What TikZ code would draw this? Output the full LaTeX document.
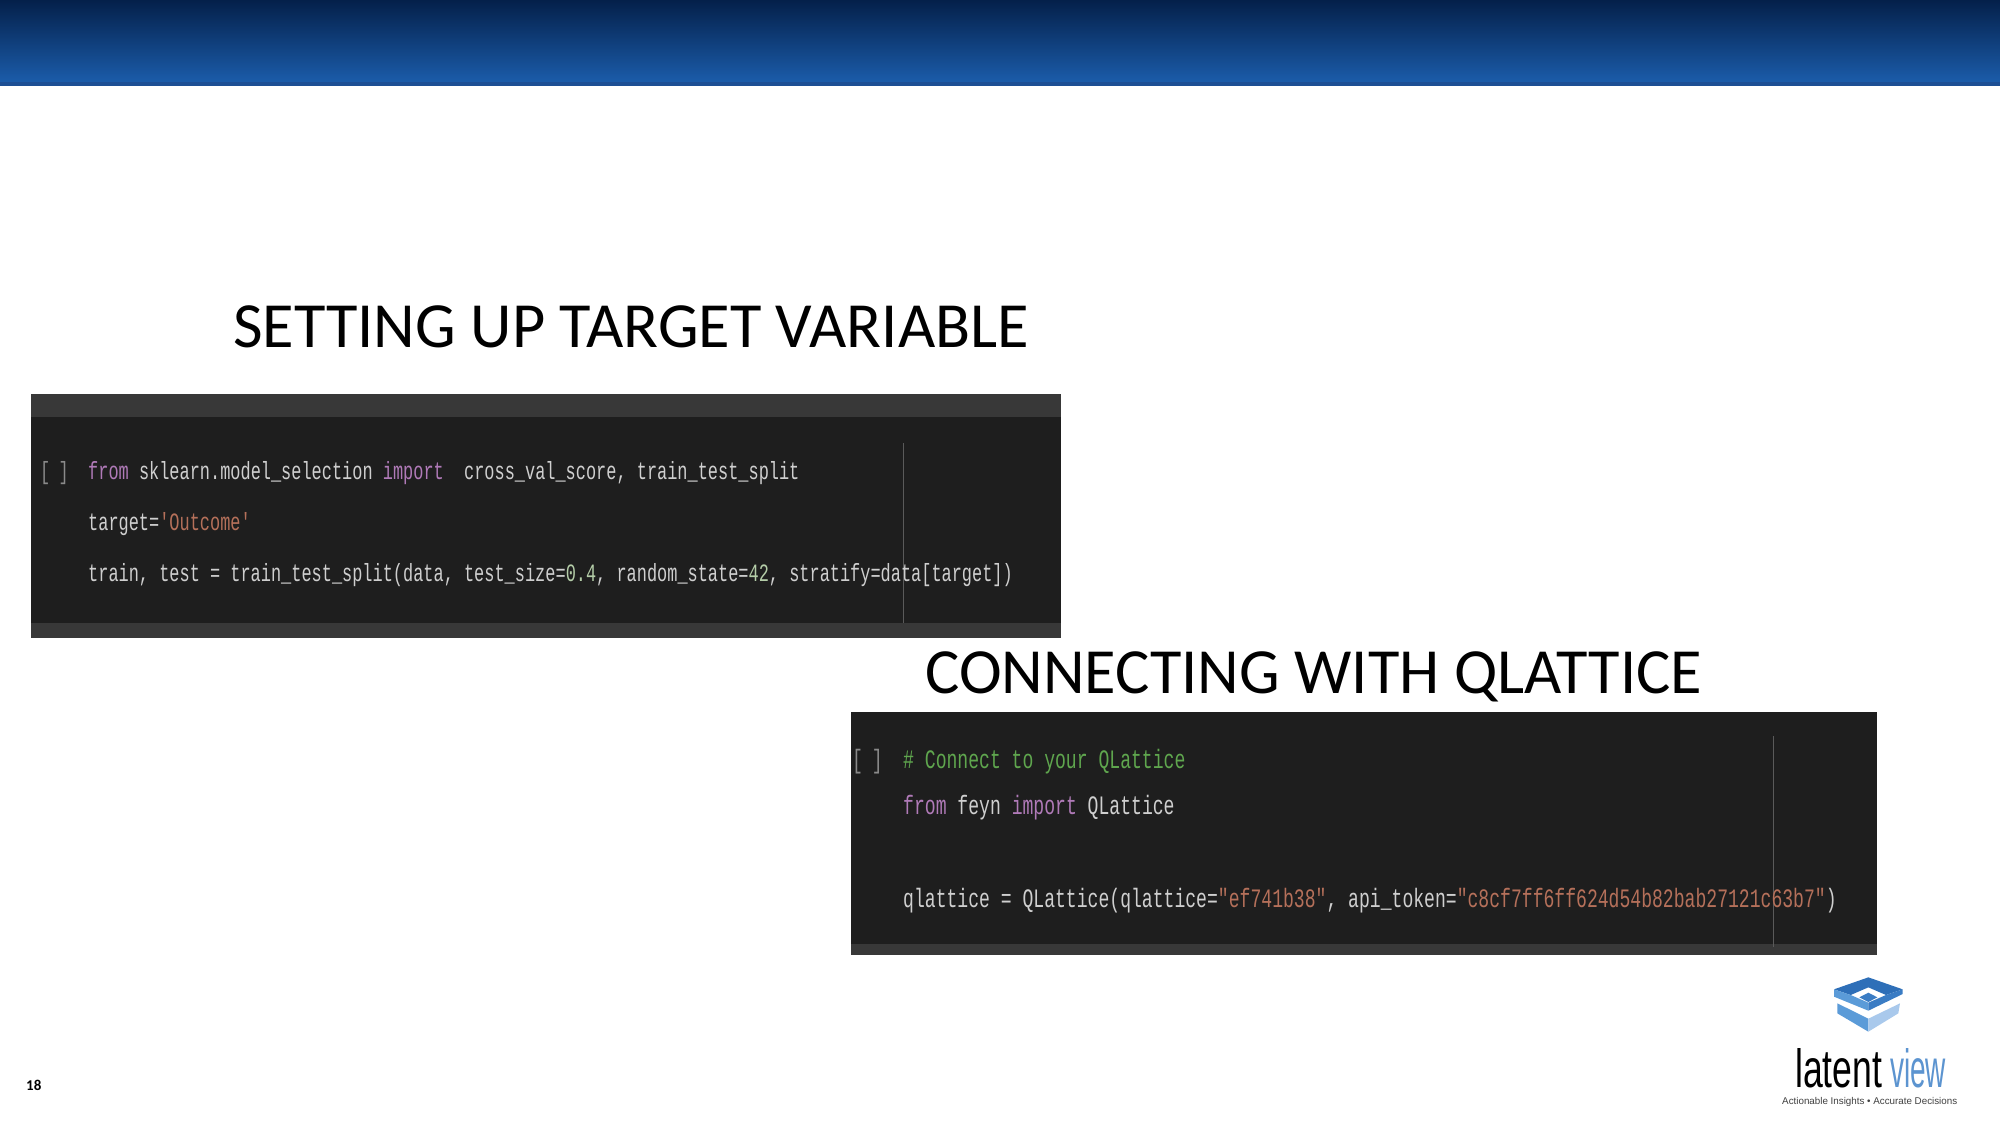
\documentclass[tikz,border=0pt]{standalone}
\usepackage{fontspec}
\usepackage{graphicx}
\setmainfont{Carlito}
\newfontfamily\codefont[FakeStretch=0.68]{Liberation Mono}
\newfontfamily\logofont{Liberation Sans}
\definecolor{panelbg}{HTML}{1E1E1E}
\definecolor{panelbar}{HTML}{383838}
\definecolor{codetxt}{HTML}{CFCFCF}
\definecolor{kw}{HTML}{B07AB8}
\definecolor{strc}{HTML}{B5705A}
\definecolor{numc}{HTML}{B4CDA8}
\definecolor{comc}{HTML}{5FA64E}
\definecolor{brk}{HTML}{8A8A8A}
\definecolor{guide}{HTML}{5A5A5A}
\definecolor{logoA}{HTML}{2E6FB8}
\definecolor{logoB}{HTML}{5B9BD8}
\definecolor{logoC}{HTML}{3A7CC4}
\definecolor{logoD}{HTML}{A9C9EC}
\definecolor{viewc}{HTML}{5C94D0}
\definecolor{headtop}{HTML}{04204A}
\definecolor{headbot}{HTML}{1B5CAA}
\definecolor{headline}{HTML}{1D4F94}
\newcommand{\kwd}[1]{\textcolor{kw}{#1}}
\newcommand{\strg}[1]{\textcolor{strc}{#1}}
\newcommand{\numb}[1]{\textcolor{numc}{#1}}
\tikzset{
  titletext/.style={anchor=base west,inner sep=0pt,font=\fontsize{64.4}{65}\selectfont,text=black},
  codeA/.style={anchor=base west,inner sep=0pt,font=\codefont\fontsize{24.9}{25}\selectfont,text=codetxt},
  codeB/.style={anchor=base west,inner sep=0pt,font=\codefont\fontsize{26.6}{27}\selectfont,text=codetxt},
  guideline/.style={draw=guide,line width=1pt},
}
\begin{document}
\begin{tikzpicture}[x=1pt,y=-1pt]
\useasboundingbox (0,0) rectangle (2000,1125);
\fill[white] (0,0) rectangle (2000,1125);
% header
\shade[top color=headtop,bottom color=headbot] (0,0) rectangle (2000,82);
\fill[headline] (0,82) rectangle (2000,86);
% titles
\node[titletext] (t1) at (233,347) {SETTING UP TARGET VARIABLE};
\node[titletext] (t2) at (925,693) {CONNECTING WITH QLATTICE};
% panel 1
\fill[panelbg] (31,394) rectangle (1061,638);
\fill[panelbar] (31,394) rectangle (1061,417);
\fill[panelbar] (31,623) rectangle (1061,638);
\draw[guideline] (903,443) -- (903,623);
\node[codeA,text=brk] (b1) at (40,479) {[\kern-2pt\ ]};
\node[codeA] (a1) at (88,479) {\kwd{from} sklearn.model\_selection \kwd{import}\ \ cross\_val\_score, train\_test\_split};
\node[codeA] (a2) at (88,530) {target=\strg{'Outcome'}};
\node[codeA] (a3) at (88,581) {train, test = train\_test\_split(data, test\_size=\numb{0.4}, random\_state=\numb{42}, stratify=data[target])};
% panel 2
\fill[panelbg] (851,712) rectangle (1877,955);
\fill[panelbar] (851,944) rectangle (1877,955);
\draw[guideline] (1773,736) -- (1773,947);
\node[codeB,text=brk] (b2) at (852,768) {[\kern-2pt\ ]};
\node[codeB,text=comc] (c1) at (903,768) {\# Connect to your QLattice};
\node[codeB] (c2) at (903,814) {\kwd{from} feyn \kwd{import} QLattice};
\node[codeB] (c3) at (903,907) {qlattice = QLattice(qlattice=\strg{"ef741b38"}, api\_token=\strg{"c8cf7ff6ff624d54b82bab27121c63b7"})};
% page number
\node[anchor=base west,inner sep=0pt,font=\fontsize{15}{15}\selectfont\bfseries] (pg) at (26,1090) {18};
% logo mark
\begin{scope}[shift={(1760,960)},x=1/3*1pt,y=-1/3*1pt]
\fill[logoA] (222,88) -- (325,52) -- (428,88) -- (378,105) -- (325,82) -- (272,105) -- cycle;
\fill[logoB] (222,88) -- (272,105) -- (325,128) -- (325,152) -- (222,110) -- cycle;
\fill[logoC] (428,88) -- (428,102) -- (325,152) -- (325,128) -- (378,105) -- cycle;
\fill[logoC] (298,112) -- (325,98) -- (352,112) -- (325,126) -- cycle;
\fill[logoB] (232,130) -- (325,176) -- (325,215) -- (232,160) -- cycle;
\fill[logoD] (420,130) -- (325,176) -- (325,215) -- (415,160) -- cycle;
\end{scope}
% logo text
\node[anchor=north west,inner sep=0pt,text=black] (lg1) at (1795,1048) {\resizebox{87pt}{39pt}{\logofont latent}};
\node[anchor=north west,inner sep=0pt,text=viewc] (lg2) at (1890,1048) {\resizebox{56pt}{39pt}{\logofont view}};
\node[anchor=base west,inner sep=0pt,text=black!75] (lg3) at (1782,1104) {\resizebox{175pt}{!}{\logofont Actionable Insights \textbullet\ Accurate Decisions}};
\end{tikzpicture}
\end{document}
